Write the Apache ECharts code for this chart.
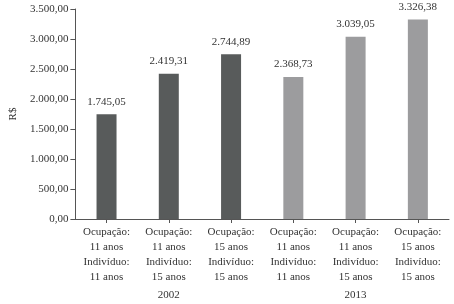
<!DOCTYPE html>
<html>
<head>
<meta charset="utf-8">
<script src="https://cdn.jsdelivr.net/npm/echarts@6/dist/echarts.min.js"></script>
<style>
  html, body { margin: 0; padding: 0; background: #fff; }
  #container { width: 454px; height: 304px; }
</style>
</head>
<body>
<div id="container"></div>
<script>
var categories = [
  'Ocupação:\n11 anos\nIndivíduo:\n11 anos',
  'Ocupação:\n11 anos\nIndivíduo:\n15 anos',
  'Ocupação:\n15 anos\nIndivíduo:\n15 anos',
  'Ocupação:\n11 anos\nIndivíduo:\n11 anos',
  'Ocupação:\n11 anos\nIndivíduo:\n15 anos',
  'Ocupação:\n15 anos\nIndivíduo:\n15 anos'
];
var years = ['2002', '2013'];
var values = [1745.05, 2419.31, 2744.89, 2368.73, 3039.05, 3326.38];
var barColors = ['#585b5b', '#585b5b', '#585b5b', '#9c9c9e', '#9c9c9e', '#9c9c9e'];

// 1234.5 -> 1.234,50
function fmtBR(v) {
  var parts = Number(v).toFixed(2).split('.');
  parts[0] = parts[0].replace(/\B(?=(\d{3})+(?!\d))/g, '.');
  return parts[0] + ',' + parts[1];
}

var serif = '"Liberation Serif", "Times New Roman", serif';
var txt = '#333';

var chart = echarts.init(document.getElementById('container'));
var option = {
  backgroundColor: '#fff',
  animation: false,
  grid: { left: 64, right: 5, top: 9, bottom: 85 },
  xAxis: [{
    type: 'category',
    data: categories,
    axisLine: { show: true, lineStyle: { color: '#555', width: 1 } },
    axisTick: { show: true, alignWithLabel: true, length: 4, lineStyle: { color: '#555' } },
    axisLabel: {
      interval: 0, margin: 6, color: txt, fontFamily: serif, fontSize: 11, lineHeight: 15
    }
  }, {
    type: 'category',
    data: years,
    position: 'bottom',
    offset: 71,
    axisLine: { show: false },
    axisTick: { show: false },
    axisLabel: { margin: 0, color: txt, fontFamily: serif, fontSize: 11 }
  }],
  yAxis: {
    type: 'value',
    min: 0,
    max: 3500,
    interval: 500,
    name: 'R$',
    nameLocation: 'middle',
    nameGap: 55,
    nameRotate: 90,
    nameTextStyle: { color: txt, fontFamily: serif, fontSize: 11 },
    splitLine: { show: false },
    axisLine: { show: true, lineStyle: { color: '#555', width: 1 } },
    axisTick: { show: true, length: 5, lineStyle: { color: '#555' } },
    axisLabel: { margin: 7, color: txt, fontFamily: serif, fontSize: 11, formatter: fmtBR }
  },
  series: [{
    type: 'bar',
    xAxisIndex: 0,
    barWidth: 20,
    data: values.map(function (v, i) {
      return { value: v, itemStyle: { color: barColors[i] } };
    }),
    label: {
      show: true,
      position: 'top',
      distance: 7,
      color: txt,
      fontFamily: serif,
      fontSize: 11,
      formatter: function (p) { return fmtBR(p.value); }
    }
  }]
};
chart.setOption(option);
</script>
</body>
</html>
